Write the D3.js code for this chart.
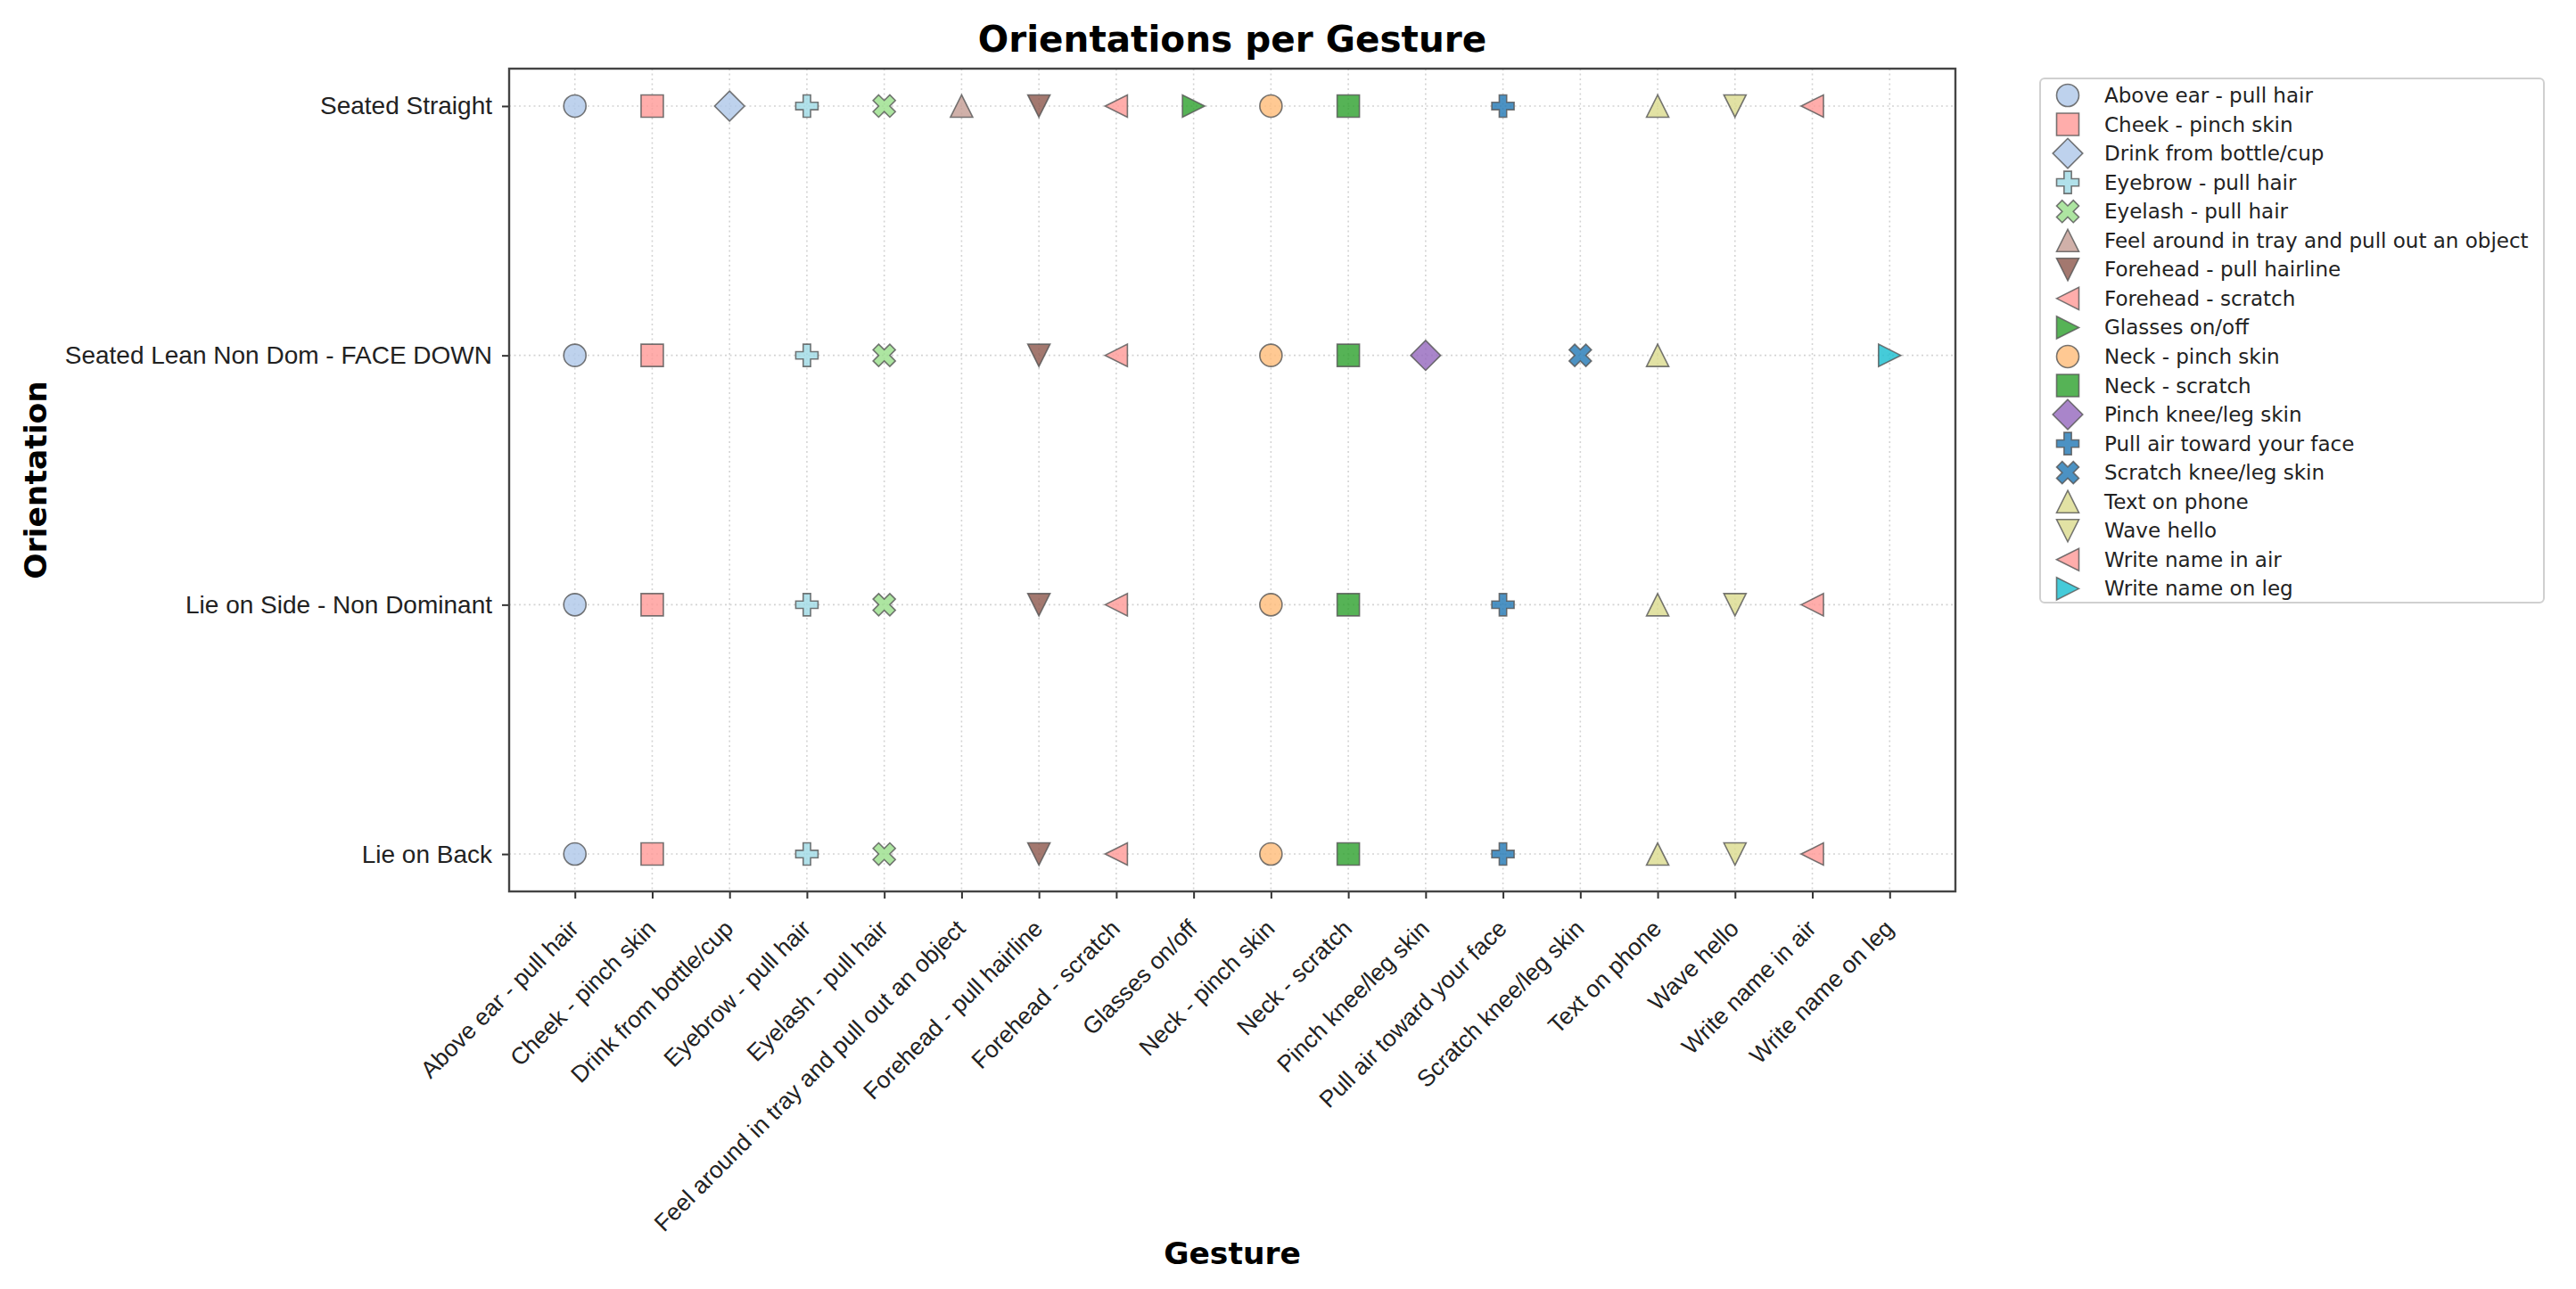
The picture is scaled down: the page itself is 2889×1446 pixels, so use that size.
<!DOCTYPE html>
<html>
<head>
<meta charset="utf-8">
<script src="https://cdn.jsdelivr.net/npm/d3@7"></script>
<style>
  html, body { margin: 0; padding: 0; background: #fff; }
  svg { display: block; font-family: 'DejaVu Sans', sans-serif; }
</style>
</head>
<body>
<div id="chart"></div>
<script>
// Gestures on the x axis (also legend order)
const gestures = [
  'Above ear - pull hair',
  'Cheek - pinch skin',
  'Drink from bottle/cup',
  'Eyebrow - pull hair',
  'Eyelash - pull hair',
  'Feel around in tray and pull out an object',
  'Forehead - pull hairline',
  'Forehead - scratch',
  'Glasses on/off',
  'Neck - pinch skin',
  'Neck - scratch',
  'Pinch knee/leg skin',
  'Pull air toward your face',
  'Scratch knee/leg skin',
  'Text on phone',
  'Wave hello',
  'Write name in air',
  'Write name on leg',
];

// Orientations on the y axis, top to bottom
const orientations = [
  'Seated Straight',
  'Seated Lean Non Dom - FACE DOWN',
  'Lie on Side - Non Dominant',
  'Lie on Back',
];

// Which gestures were recorded in each orientation
const seatedStraight = [
  'Above ear - pull hair', 'Cheek - pinch skin', 'Drink from bottle/cup', 'Eyebrow - pull hair',
  'Eyelash - pull hair', 'Feel around in tray and pull out an object', 'Forehead - pull hairline',
  'Forehead - scratch', 'Glasses on/off', 'Neck - pinch skin', 'Neck - scratch',
  'Pull air toward your face', 'Text on phone', 'Wave hello', 'Write name in air',
];
const seatedLean = [
  'Above ear - pull hair', 'Cheek - pinch skin', 'Eyebrow - pull hair', 'Eyelash - pull hair',
  'Forehead - pull hairline', 'Forehead - scratch', 'Neck - pinch skin', 'Neck - scratch',
  'Pinch knee/leg skin', 'Scratch knee/leg skin', 'Text on phone', 'Write name on leg',
];
const lieOnSide = [
  'Above ear - pull hair', 'Cheek - pinch skin', 'Eyebrow - pull hair', 'Eyelash - pull hair',
  'Forehead - pull hairline', 'Forehead - scratch', 'Neck - pinch skin', 'Neck - scratch',
  'Pull air toward your face', 'Text on phone', 'Wave hello', 'Write name in air',
];
const lieOnBack = [
  'Above ear - pull hair', 'Cheek - pinch skin', 'Eyebrow - pull hair', 'Eyelash - pull hair',
  'Forehead - pull hairline', 'Forehead - scratch', 'Neck - pinch skin', 'Neck - scratch',
  'Pull air toward your face', 'Text on phone', 'Wave hello', 'Write name in air',
];

const byOrientation = [seatedStraight, seatedLean, lieOnSide, lieOnBack];

// style per gesture
const markerCycle = ['o', 's', 'D', 'P', 'X', '^', 'v', '<', '>'];
const gestureColors = [
  '#aec7e8', '#ff9896', '#aec7e8', '#9edae5', '#98df8a', '#c49c94',
  '#8c564b', '#ff9896', '#2ca02c', '#ffbb78', '#2ca02c', '#9467bd',
  '#1f77b4', '#1f77b4', '#dbdb8d', '#dbdb8d', '#ff9896', '#17becf',
];

const W = 2889;
const H = 1446;
const margin = { left: 571, right: W - 2193, top: 77, bottom: H - 1000 };
const plotW = W - margin.left - margin.right;
const plotH = H - margin.top - margin.bottom;
const MS = 25; // marker size in px

// matplotlib-like marker paths, size s (centered at 0,0)
function markerPath(m, s) {
  const h = s / 2;
  const p = d3.path();
  const poly = (pts) => {
    pts.forEach(([x, y], i) => (i ? p.lineTo(x, y) : p.moveTo(x, y)));
    p.closePath();
  };
  switch (m) {
    case 'o': p.arc(0, 0, h, 0, 2 * Math.PI); break;
    case 's': poly([[-h, -h], [h, -h], [h, h], [-h, h]]); break;
    case 'D': {
      const d = h * Math.SQRT2 * 0.95;
      poly([[0, -d], [d, 0], [0, d], [-d, 0]]);
      break;
    }
    case 'P': {
      const u = s / 6;
      poly([[-u, -3 * u], [u, -3 * u], [u, -u], [3 * u, -u], [3 * u, u], [u, u],
        [u, 3 * u], [-u, 3 * u], [-u, u], [-3 * u, u], [-3 * u, -u], [-u, -u]]);
      break;
    }
    case 'X': {
      const u = s / 4;
      poly([[-u, -2 * u], [0, -u], [u, -2 * u], [2 * u, -u], [u, 0], [2 * u, u],
        [u, 2 * u], [0, u], [-u, 2 * u], [-2 * u, u], [-u, 0], [-2 * u, -u]]);
      break;
    }
    case '^': poly([[0, -h], [h, h], [-h, h]]); break;
    case 'v': poly([[0, h], [h, -h], [-h, -h]]); break;
    case '<': poly([[-h, 0], [h, -h], [h, h]]); break;
    case '>': poly([[h, 0], [-h, -h], [-h, h]]); break;
    default: break;
  }
  return p.toString();
}

const svg = d3.select('#chart').append('svg')
  .attr('width', W)
  .attr('height', H);

const g = svg.append('g')
  .attr('transform', `translate(${margin.left},${margin.top})`);

// categorical axes with 5% margins, like matplotlib
const xIndex = d3.scaleLinear()
  .domain([-0.85, gestures.length - 1 + 0.85])
  .range([0, plotW]);
const yIndex = d3.scaleLinear()
  .domain([-0.15, orientations.length - 1 + 0.15])
  .range([0, plotH]);
const x = (name) => xIndex(gestures.indexOf(name));
const y = (name) => yIndex(orientations.indexOf(name));

// grid
g.append('g')
  .selectAll('line.vg')
  .data(gestures)
  .join('line')
  .attr('x1', x).attr('x2', x)
  .attr('y1', 0).attr('y2', plotH)
  .attr('stroke', '#d4d4d4')
  .attr('stroke-width', 1.6)
  .attr('stroke-dasharray', '2,3.5');

g.append('g')
  .selectAll('line.hg')
  .data(orientations)
  .join('line')
  .attr('y1', y).attr('y2', y)
  .attr('x1', 0).attr('x2', plotW)
  .attr('stroke', '#d4d4d4')
  .attr('stroke-width', 1.6)
  .attr('stroke-dasharray', '2,3.5');

// points
const points = [];
byOrientation.forEach((list, oi) => {
  list.forEach((gesture) => points.push({ gesture, orientation: orientations[oi] }));
});

g.append('g')
  .selectAll('path.pt')
  .data(points)
  .join('path')
  .attr('class', 'pt')
  .attr('transform', (d) => `translate(${x(d.gesture)},${y(d.orientation)})`)
  .attr('d', (d) => markerPath(markerCycle[gestures.indexOf(d.gesture) % markerCycle.length], MS))
  .attr('fill', (d) => gestureColors[gestures.indexOf(d.gesture)])
  .attr('fill-opacity', 0.8)
  .attr('stroke', '#555')
  .attr('stroke-opacity', 0.8)
  .attr('stroke-width', 1.6);

// axes
const xAxis = d3.axisBottom(xIndex)
  .tickValues(d3.range(gestures.length))
  .tickFormat((i) => gestures[i])
  .tickSize(8)
  .tickPadding(8)
  .tickSizeOuter(0);
const yAxis = d3.axisLeft(yIndex)
  .tickValues(d3.range(orientations.length))
  .tickFormat((i) => orientations[i])
  .tickSize(8)
  .tickPadding(11)
  .tickSizeOuter(0);

const gx = g.append('g')
  .attr('transform', `translate(0,${plotH})`)
  .call(xAxis);
gx.select('.domain').remove();
gx.selectAll('.tick line').attr('stroke', '#333').attr('stroke-width', 2);
gx.selectAll('.tick text')
  .attr('font-size', 26.5)
  .attr('fill', '#222')
  .attr('text-anchor', 'end')
  .attr('dy', 0)
  .attr('transform', 'translate(-6,32) rotate(-45)');

const gy = g.append('g').call(yAxis);
gy.select('.domain').remove();
gy.selectAll('.tick line').attr('stroke', '#333').attr('stroke-width', 2);
gy.selectAll('.tick text')
  .attr('font-size', 28)
  .attr('fill', '#222');

// frame
g.append('rect')
  .attr('x', 0).attr('y', 0)
  .attr('width', plotW).attr('height', plotH)
  .attr('fill', 'none')
  .attr('stroke', '#444')
  .attr('stroke-width', 2.4);

// titles
svg.append('text')
  .attr('x', margin.left + plotW / 2)
  .attr('y', 58)
  .attr('text-anchor', 'middle')
  .attr('font-size', 40.5)
  .attr('font-weight', 'bold')
  .attr('fill', '#000')
  .text('Orientations per Gesture');

svg.append('text')
  .attr('x', margin.left + plotW / 2)
  .attr('y', 1418)
  .attr('text-anchor', 'middle')
  .attr('font-size', 34.5)
  .attr('font-weight', 'bold')
  .attr('fill', '#000')
  .text('Gesture');

svg.append('text')
  .attr('transform', `translate(52,${margin.top + plotH / 2}) rotate(-90)`)
  .attr('text-anchor', 'middle')
  .attr('font-size', 34.5)
  .attr('font-weight', 'bold')
  .attr('fill', '#000')
  .text('Orientation');

// legend
const legend = svg.append('g').attr('transform', 'translate(2288,88)');
legend.append('rect')
  .attr('width', 565)
  .attr('height', 588)
  .attr('rx', 5)
  .attr('fill', '#fff')
  .attr('stroke', '#d0d0d0')
  .attr('stroke-width', 2);

const rows = legend.selectAll('g.row')
  .data(gestures)
  .join('g')
  .attr('class', 'row')
  .attr('transform', (d, i) => `translate(0,${19 + i * 32.55})`);

rows.append('path')
  .attr('transform', 'translate(31,0)')
  .attr('d', (d, i) => markerPath(markerCycle[i % markerCycle.length], MS))
  .attr('fill', (d, i) => gestureColors[i])
  .attr('fill-opacity', 0.8)
  .attr('stroke', '#555')
  .attr('stroke-opacity', 0.8)
  .attr('stroke-width', 1.6);

rows.append('text')
  .attr('x', 72)
  .attr('dy', '0.35em')
  .attr('font-size', 23)
  .attr('fill', '#222')
  .text((d) => d);
</script>
</body>
</html>
